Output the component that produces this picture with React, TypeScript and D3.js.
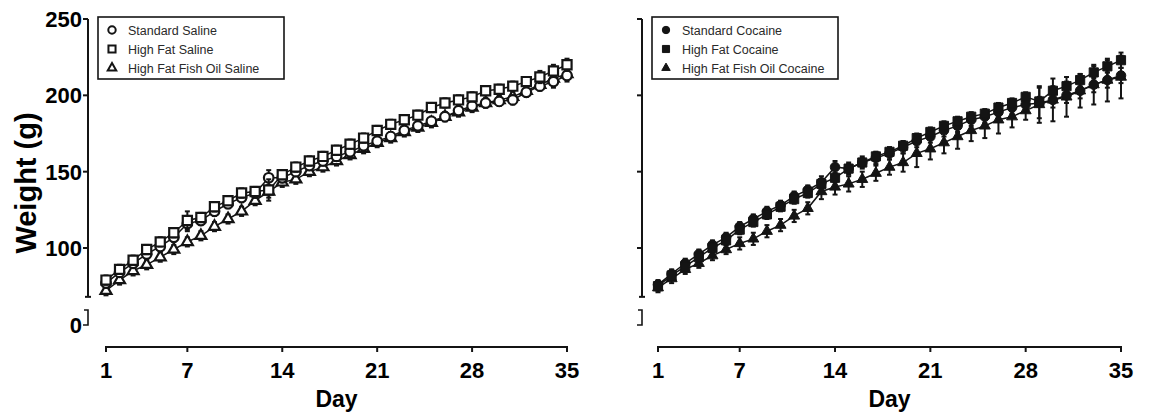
import React from "react";
import * as d3 from "d3";

// days on the x axis
const days = d3.range(1, 36);
const xTicks = [1, 7, 14, 21, 28, 35];
const yTicks = [100, 150, 200, 250];

// saline groups (g)
const stdSaline = [77, 84, 90, 96, 101, 107, 116, 118, 124, 129, 133, 136, 146, 146, 150, 154, 157, 160, 163, 167, 170, 173, 177, 180, 183, 186, 190, 193, 195, 196, 197, 202, 206, 209, 213];
const stdSalineErr = [3, 3, 3, 3, 3, 3, 5, 3, 3, 3, 3, 3, 5, 3, 3, 3, 3, 3, 3, 3, 3, 3, 3, 3, 3, 3, 3, 3, 3, 3, 3, 3, 3, 4, 4];
const hfSaline = [79, 86, 92, 99, 104, 110, 118, 120, 127, 131, 136, 137, 138, 148, 153, 157, 160, 164, 168, 172, 177, 181, 184, 187, 192, 195, 197, 199, 203, 204, 206, 209, 212, 216, 220];
const hfSalineErr = [3, 3, 3, 3, 3, 3, 6, 3, 3, 3, 3, 3, 7, 3, 3, 3, 3, 3, 3, 3, 3, 3, 3, 3, 3, 3, 3, 3, 3, 3, 3, 3, 4, 4, 4];
const hffoSaline = [72, 79, 85, 89, 94, 99, 104, 108, 114, 119, 124, 131, 137, 143, 145, 150, 153, 157, 161, 165, 169, 172, 176, 179, 182, 186, 189, 192, 195, 197, 199, 203, 207, 211, 214];
const hffoSalineErr = [3, 3, 3, 3, 3, 3, 3, 3, 3, 3, 3, 3, 4, 3, 3, 3, 3, 3, 3, 3, 3, 3, 3, 3, 3, 3, 3, 3, 3, 3, 3, 3, 3, 3, 3];

// cocaine groups (g)
const stdCocaine = [76, 83, 90, 96, 102, 107, 114, 119, 124, 128, 134, 138, 143, 153, 152, 156, 159, 162, 166, 170, 173, 177, 180, 184, 186, 189, 192, 194, 195, 197, 200, 203, 207, 210, 213];
const stdCocaineErr = [3, 3, 3, 3, 3, 3, 3, 3, 3, 3, 3, 3, 4, 4, 4, 4, 4, 4, 4, 4, 4, 4, 4, 4, 4, 4, 4, 4, 10, 5, 5, 5, 5, 5, 5];
const hfCocaine = [75, 82, 88, 94, 100, 105, 112, 117, 122, 127, 132, 136, 142, 146, 152, 156, 160, 163, 167, 172, 176, 180, 183, 186, 188, 192, 195, 199, 196, 203, 206, 210, 215, 219, 223];
const hfCocaineErr = [3, 3, 3, 3, 3, 3, 3, 3, 3, 3, 3, 3, 3, 3, 3, 3, 3, 3, 3, 3, 3, 3, 3, 3, 3, 3, 3, 3, 3, 3, 3, 4, 4, 4, 5];
const hffoCocaine = [74, 80, 86, 90, 95, 99, 103, 106, 111, 115, 121, 126, 137, 140, 142, 145, 149, 153, 156, 162, 165, 169, 173, 177, 180, 184, 186, 190, 194, 197, 199, 203, 207, 210, 212];
const hffoCocaineErr = [3, 3, 3, 3, 3, 3, 4, 4, 4, 4, 4, 4, 5, 5, 5, 5, 5, 5, 6, 9, 7, 7, 8, 7, 8, 9, 7, 6, 12, 14, 13, 11, 13, 14, 14];

const FONT = "'Liberation Sans', Arial, sans-serif";
const INK = "#141414";
const AXIS_Y = 347;

// segmented y axis: upper piece 68..250, small lower piece 0..10
const yScale = d3.scaleLinear().domain([100, 250]).range([248, 19]);
const yLow = d3.scaleLinear().domain([0, 10]).range([325, 310]);
const Y_BREAK = 68;

const shapes = {
  circle: { type: d3.symbolCircle, size: 72 },
  square: { type: d3.symbolSquare, size: 84 },
  triangle: { type: d3.symbolTriangle, size: 52 },
};

const Panel = ({ x0, x1, axisX, series, labels }) => {
  const x = d3.scaleLinear().domain([1, 35]).range([x0, x1]);
  const line = d3
    .line()
    .x((d) => x(d[0]))
    .y((d) => yScale(d[1]));

  return (
    <g>
      {/* y axis */}
      <line x1={axisX} x2={axisX} y1={yScale(250)} y2={yScale(Y_BREAK)} stroke={INK} strokeWidth={2} />
      <line x1={axisX - 3} x2={axisX + 3} y1={yScale(Y_BREAK)} y2={yScale(Y_BREAK)} stroke={INK} strokeWidth={2} />
      {yTicks.map((t) => (
        <g key={t}>
          <line x1={axisX - 5} x2={axisX} y1={yScale(t)} y2={yScale(t)} stroke={INK} strokeWidth={2} />
          {labels && (
            <text x={axisX - 6} y={yScale(t)} dy="0.36em" textAnchor="end" fontSize={22} fontWeight="bold" fill="#000" fontFamily={FONT}>
              {t}
            </text>
          )}
        </g>
      ))}
      <path
        d={`M${axisX - 4},${yLow(10)}H${axisX}V${yLow(0)}H${axisX - 5}`}
        fill="none"
        stroke={INK}
        strokeWidth={1.6}
      />
      {labels && (
        <text x={axisX - 6} y={yLow(0)} dy="0.36em" textAnchor="end" fontSize={22} fontWeight="bold" fill="#000" fontFamily={FONT}>
          0
        </text>
      )}

      {/* x axis */}
      <line x1={x(1)} x2={x(35)} y1={AXIS_Y} y2={AXIS_Y} stroke={INK} strokeWidth={2} />
      {xTicks.map((t) => (
        <g key={t}>
          <line x1={x(t)} x2={x(t)} y1={AXIS_Y - 1} y2={AXIS_Y + 5} stroke={INK} strokeWidth={2} />
          <text x={x(t)} y={378} textAnchor="middle" fontSize={22} fontWeight="bold" fill="#000" fontFamily={FONT}>
            {t}
          </text>
        </g>
      ))}
      <text x={(x(1) + x(35)) / 2} y={407} textAnchor="middle" fontSize={23} fontWeight="bold" fill="#000" fontFamily={FONT}>
        Day
      </text>

      {/* series */}
      {series.map((s) => {
        const pts = days.map((d, i) => [d, s.values[i], s.err[i]]);
        const sym = d3.symbol().type(shapes[s.shape].type).size(shapes[s.shape].size)();
        return (
          <g key={s.name}>
            <path d={line(pts)} fill="none" stroke={INK} strokeWidth={1.5} />
            {pts.map(([d, v, e]) => (
              <g key={d} stroke={INK} strokeWidth={2}>
                <line x1={x(d)} x2={x(d)} y1={yScale(v + e)} y2={yScale(v - e)} />
                <line x1={x(d) - 2.5} x2={x(d) + 2.5} y1={yScale(v + e)} y2={yScale(v + e)} />
                <line x1={x(d) - 2.5} x2={x(d) + 2.5} y1={yScale(v - e)} y2={yScale(v - e)} />
              </g>
            ))}
            {pts.map(([d, v]) => (
              <path
                key={d}
                d={sym}
                transform={`translate(${x(d)},${yScale(v)})`}
                fill={s.filled ? INK : "#fff"}
                stroke={INK}
                strokeWidth={s.filled ? 1 : 2.2}
              />
            ))}
          </g>
        );
      })}

      {/* legend */}
      <rect x={axisX + 10} y={17} width={186} height={62} fill="#fff" stroke={INK} strokeWidth={1.6} />
      {series
        .slice()
        .sort((a, b) => a.order - b.order)
        .map((s, i) => {
          const sym = d3.symbol().type(shapes[s.shape].type).size(shapes[s.shape].size * 0.6)();
          const ly = 30 + i * 19;
          return (
            <g key={s.name}>
              <path
                d={sym}
                transform={`translate(${axisX + 24},${ly})`}
                fill={s.filled ? INK : "#fff"}
                stroke={INK}
                strokeWidth={s.filled ? 1 : 2}
              />
              <text x={axisX + 40} y={ly} dy="0.36em" fontSize={12.5} fill="#2a2a2a" fontFamily={FONT}>
                {s.name}
              </text>
            </g>
          );
        })}
    </g>
  );
};

const salineSeries = [
  { name: "High Fat Fish Oil Saline", values: hffoSaline, err: hffoSalineErr, shape: "triangle", filled: false, order: 2 },
  { name: "Standard Saline", values: stdSaline, err: stdSalineErr, shape: "circle", filled: false, order: 0 },
  { name: "High Fat Saline", values: hfSaline, err: hfSalineErr, shape: "square", filled: false, order: 1 },
];

const cocaineSeries = [
  { name: "High Fat Fish Oil Cocaine", values: hffoCocaine, err: hffoCocaineErr, shape: "triangle", filled: true, order: 2 },
  { name: "Standard Cocaine", values: stdCocaine, err: stdCocaineErr, shape: "circle", filled: true, order: 0 },
  { name: "High Fat Cocaine", values: hfCocaine, err: hfCocaineErr, shape: "square", filled: true, order: 1 },
];

export default function App() {
  return (
    <svg width={1149} height={420} style={{ position: "absolute", left: 0, top: 0, background: "#fff" }}>
      <text
        transform="translate(36,183) rotate(-90)"
        textAnchor="middle"
        fontSize={29}
        fontWeight="bold"
        fill="#000"
        fontFamily={FONT}
      >
        Weight (g)
      </text>
      <Panel x0={106} x1={567} axisX={88} series={salineSeries} labels={true} />
      <Panel x0={658} x1={1121} axisX={642} series={cocaineSeries} labels={false} />
    </svg>
  );
}
